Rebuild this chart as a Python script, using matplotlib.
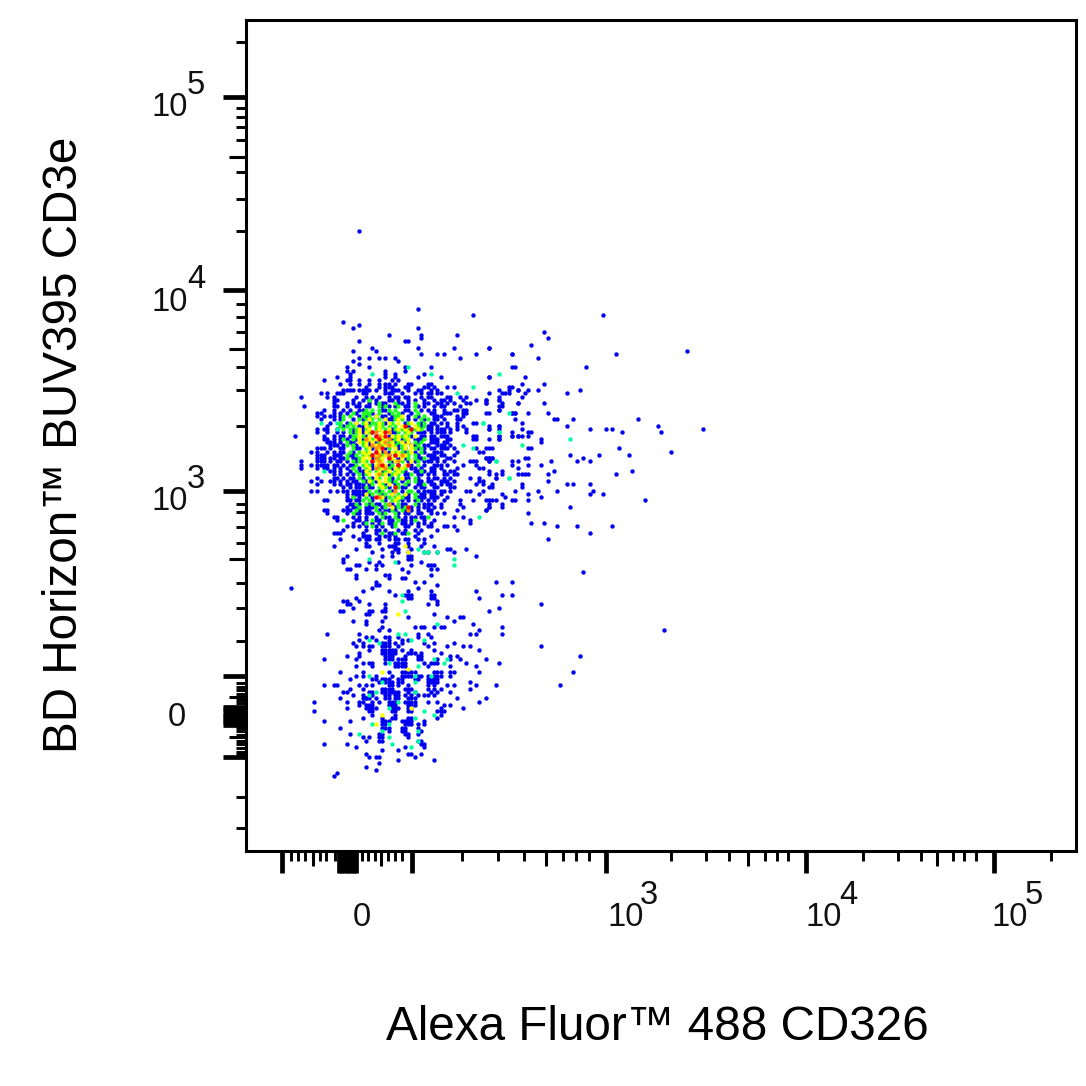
import matplotlib
matplotlib.use('Agg')
import matplotlib.pyplot as plt

plt.rcParams['font.family'] = ['Liberation Sans', 'DejaVu Sans']

# plot is 256 x 256 channels, each row is (y channel, [x channels])
blue_top = [(191,[35]),(167,[53]),(165,[70]),(163,[30]),(162,[35]),(161,[33,53]),(159,[44,65,54]),(158,[54]),
    (157,[35,49,50]),(155,[53,64,75,39]),(154,[33,40]),(153,[54,59,61,71,82]),(152,[35,38,41,43,46,66]),
    (151,[33,47]),(150,[35]),(149,[31,38,49,57,82]),(148,[49,33,43,31]),(147,[32,43,46,55]),
    (146,[28,32,43,46,53,60,75]),(145,[24,31,32,35,38,41,45,47]),(144,[29,32,38,41,43,46,50,51,56,57]),
    (143,[41,43,44,49,55,58,62,64,81]),(142,[30,31,32,35,36,37,38,43,45,46,50,54,57,59,78,81,84]),
    (141,[23,25,28,29,36,43,45,54,56,59,75,80]),(140,[17,25,37,41,44,47,49,54,56,62,63,66,68,78]),
    (139,[27,36,38,44,47,50,55,58,61,67,71,74,78]),(138,[31,35,38,40,43,47,50,56,59,62,68,69,74,79,84]),
    (137,[18,27,31,34,35,38,44,49,50,55,58,60,66,78]),(136,[24,27,32,35,42,49,56,61,65,67,68,78])]

blue_core = [(135,[22,29,34,39,48,57,61,62,67,68,74,82,83]),
    (134,[22,26,27,35,40,42,43,50,58,60,65,67]),(133,[27,33,43,44,52,59,61,65,66]),
    (132,[34,43,57,60,65,70,71]),(131,[36,56,57,65,67,75,78]),(130,[24,25,36,41,56,59,60,61,65,68,75,78]),
    (129,[22,30,36,45,53,55,59,60,61,68,82]),(128,[15,24,29,30,37,44,54,55,57,60,62,70,71,78,82,84]),
    (127,[24,25,31,36,45,52,53,57,58,62,70,71,78]),(126,[25,26,27,33,38,46,50,57,59,62]),
    (125,[27,28,33,44,51,55,59,61,63]),(124,[22,23,24,29,34,49,55,58,61,62,64,71,75]),
    (123,[20,27,30,44,52,59,60,65,72]),(122,[22,23,27,28,32,44,56,58,61,64]),
    (121,[22,24,27,29,33,47,54,57,58,62,74,75,76]),(120,[17,22,24,29,46,52,55,57,61,64,69,70,71,75,82]),
    (119,[17,20,22,24,25,27,32,58,60,62,67,71]),(118,[17,22,24,27,51,58,65,72]),
    (117,[27,35,52,55,57,63,64,75,79]),(116,[31,49,53,56,61,64,65,77]),
    (115,[22,27,33,50,58,61,63,69,72,77]),(114,[20,23,26,27,34,37,50,53,56,61,62,64,72,73]),
    (113,[22,27,31,34,35,53,57,62,63,71,76]),(112,[34,36,38,49,54,58,63,64,75]),
    (111,[20,22,26,28,31,34,35,36,55,56,58,60,63,68,69]),(110,[34,35,36,49,54,58,60,72]),
    (109,[31,50,53,55,58,62]),(108,[24,25,31,34,50,56,61,66,70,74,76,82]),
    (107,[33,38,41,45,49,55,57,60,66,75,79]),(106,[33,37,39,46,51,56,58,67,75]),
    (105,[24,25,30,31,37,38,44,46,51,57,65,74]),(104,[25,34,37,39,49,53,59,61]),
    (103,[27,28,37,44,49,51,55,64,67]),(102,[28,35,41,45,49,58,69]),(101,[41,44,49,53,57,69]),
    (100,[31,35,40,49,53,57,61,62,64]),(99,[41,49,54,65]),(98,[27,28,29,44,49]),(97,[36,37,41,44]),
    (96,[29,37,38,41,46,47,50,55])]

blue_fill = [(144,[35,44]),(143,[37,45,50,56]),(142,[33,40,47,53]),(141,[30,37,44,48,52,57,60]),(140,[27,34,39,46,50,57]),
    (139,[28,33,40,45,52,60,63]),(138,[27,33,42,48,55,60,64]),(137,[28,37,42,46,53,61]),(136,[30,36,43,50,54,58,64]),
    (135,[23,27,31,44,51,58,63]),(134,[24,29,37,45,53,59]),(133,[23,29,36,45,50,55,58]),(132,[26,31,38,49,54,58,62]),
    (131,[25,30,35,50,54,59,62]),(130,[22,28,33,45,51,57,63]),(129,[25,28,33,39,46,54,57,63]),(128,[27,32,40,51,58,61]),
    (127,[27,29,34,48,54,59,63]),(126,[29,32,40,49,53,58,61]),(125,[26,30,34,38,47,52,56,60]),
    (124,[26,30,35,39,43,47,53,57,60]),(123,[22,25,29,33,40,42,49,55,58]),(122,[24,29,33,39,46,53,57,60]),
    (121,[23,26,30,34,39,44,49,53,59,63]),(120,[23,26,28,31,34,39,45,50,56,59]),(119,[23,28,30,33,39,44,47,51,55,59]),
    (118,[25,29,31,35,39,45,52,54,57,60]),(117,[26,29,32,36,42,49,53,58,61]),(116,[27,29,33,36,44,50,54,58,62]),
    (115,[28,30,32,36,39,45,49,53,56,59]),(114,[29,31,33,40,45,48,54,57,60]),(113,[29,32,36,38,43,46,50,54,58,60]),
    (112,[30,32,35,39,44,48,52,55,59]),(111,[30,33,37,41,45,48,53,57,61]),(110,[31,33,38,42,45,50,55,57]),
    (109,[33,35,39,43,49,54,57,59]),(108,[32,35,39,43,48,52,54,58]),(107,[32,35,40,44,48,53,56]),
    (106,[31,34,38,42,48,53,55,60]),(105,[32,35,41,43,49,53,56]),(104,[31,35,38,42,47,50,54,57]),
    (103,[33,35,40,43,47,52,54]),(102,[34,37,40,44,48,51,55]),(101,[33,36,39,45,48,51,55]),(100,[33,37,42,45,50,56]),
    (99,[30,37,40,43,47,52,59]),(98,[36,40,45,48,53]),(97,[33,38,43,46,52,57]),(96,[35,40,44,49,53])]

blue_low = [(95,[37,41,46,47,50,55]),(94,[27,37,38,44,45,46,50,54,58]),(93,[34,42,46,47,51,62,63,68]),
    (92,[39,45,47,50,55,56,59,64]),(91,[31,42,45,50,51,71]),(90,[30,50,51]),(89,[30,38,41,47,54]),
    (88,[34,35,40,42,51,56,57,58]),(87,[31,32,37,40,48,57,59]),(86,[50,104]),(85,[34,43,44,57]),
    (84,[34,44,48,49]),(83,[40,52,55,77,82]),(82,[40,41,59]),(81,[14,39,53]),(80,[36,44,50,57,71]),
    (79,[46,49,50,51,57,58,79,82]),(78,[34,50,51,57,58,72]),(77,[30,31,35,59]),(76,[31,32,38,43,56,59,91]),
    (75,[33,43,78]),(74,[29,30,38,39,42,43,75]),(73,[37,38,58]),(72,[43,50,62,66,67]),(71,[33,37,42,64]),
    (70,[37,70]),(69,[42,52,54,55,58,60,61,79]),(68,[41,44,72,129]),(67,[25,35,53,56,69,71,79]),
    (66,[37,39,43,44,47,53,57]),(65,[35,40,44,48,50]),(64,[33,36,46,48,55,58,64]),
    (63,[34,36,38,39,42,47,56,62,67,69,91]),(62,[38,42,43,48,51,58,72]),(61,[35,43,44,46,50,54,60]),
    (60,[31,35,44,49,53,54,63,65,103]),(59,[24,34,44,47,63,66,74]),(58,[36,38,39,47,48,55,57,58,68,78]),
    (57,[34,39,47,48,63,71]),(55,[29,36,44,49,50,52,59,60,63,72,101]),
    (54,[34,36,40,45,48,49,53,54,56,59,60,63]),(53,[32,39,40,42,47,52,57,58]),(52,[45,47,57,58,69]),
    (51,[24,27,28,35,37,39,44,45,47,50,56,58,62,64,71,77,97]),(50,[32,36,43,50,51,56,69]),
    (49,[30,31,38,42,43,45,46,50,52,57,59,63]),(48,[33,36,44,46,49,53,55,58]),
    (47,[29,36,37,40,43,47,51,65,74]),(46,[21,31,35,36,39,41,44,49,50,56,59,72]),(45,[38,45,51,63]),
    (44,[31,37,38,39,45,46,51,67]),(43,[21,38,45,50,60,61]),(42,[39,46,60]),(41,[36,42,45,59]),
    (40,[24,32,42,43,48,49,50]),(39,[43,50,51,55]),(38,[29,42,44,48,53]),(37,[44,49,54]),
    (36,[32,41,49,50,53]),(35,[36,38,41,42,50]),(34,[37,41,42,53,54]),(33,[24,31,54,55]),(32,[34,49,55]),
    (31,[42,47]),(30,[37,50,51,54]),(29,[38,40,41,52]),(28,[47,58]),(27,[41]),(26,[37]),(25,[40]),
    (24,[28]),(23,[27])]

blue_low_fill = [(64,[42,43,44]),(63,[43,44]),(62,[44,45,46]),(61,[42,45,51,52]),(60,[43,45]),(59,[43,45,48,49,53,54,59]),
    (58,[43,46,49,59]),(57,[46,49,56]),(55,[48,51,58,64]),(54,[50,51,58]),(53,[43,44,48,53,56,59]),(52,[41,43,44,48,56,59]),
    (50,[42,44,45,49,58,60]),(49,[39,44,47]),(48,[39,43,47,51,56]),(47,[37,38,44,46,50,52]),(46,[45,46,51,52]),
    (45,[35,37,39,44,46,50,52,61]),(44,[40,47,50,60]),(43,[39,46,51,59,60]),(41,[46,50,51]),(40,[44,51,55]),
    (39,[42,49,53]),(38,[43,49]),(37,[48]),(36,[42])]

right_x = [110,92,93,88,75,82,114,136,90,83,105,75,86,85,92,82,84,87,90,103,79,81,86,99,85,78,74,74,84,92,79,78,
    75,82,83,87,93,83,95,96,101,121,85,78,99,127,75,85,106,111,113,141,87,88,116,128,78,82,84,85,87,75,78,91,
    91,74,76,87,88,115,73,131,100,109,118,74,75,76,86,87,104,75,84,94,102,106,82,87,91,84,73,95,119,75,79,84,
    85,86,87,93,114,77,93,73,85,99,101,106,76,85,73,83,90,96,107,79,87,106,110,80,91,75,77,83,87,123,79,100,
    75,74,87,88,92,96,102,113,106,93]
right_y = [165,160,158,156,155,153,153,154,152,149,149,146,146,144,144,143,142,142,142,142,141,141,141,141,140,139,139,138,138,138,137,136,
    135,135,135,135,135,133,133,133,133,133,132,131,131,131,130,130,130,130,130,130,129,129,129,129,128,128,128,128,128,127,127,127,
    126,124,124,124,124,124,123,123,122,122,122,121,121,121,121,121,121,120,120,120,120,120,119,119,119,118,118,117,117,116,116,116,
    116,116,116,116,116,115,114,113,113,113,113,113,112,112,111,111,111,111,111,110,110,110,110,109,109,108,108,108,108,108,106,106,
    106,105,104,101,101,100,100,100,98,96]

teal_x = [23,28,28,24,65,70,78,57,50,39,73,78,81,72,67,70,77,81,64,64,73,78,100,85,77,81,38,46,55,56,59,53,48,48,49,59,47,49,38,51,55,41,
    44,53,58,61,62,38,52,57,42,52,40,38,52,47,55,58,44,52,39,44,42,53,35,44,53,45,51]
teal_y = [132,132,130,117,141,143,147,147,149,147,132,129,135,103,125,124,120,115,90,88,132,129,127,125,120,115,90,89,92,92,92,93,79,77,74,70,67,67,65,65,65,64,
    58,57,59,58,59,54,54,54,52,52,49,48,49,46,43,42,44,41,39,39,37,37,36,35,34,33,32]

green_core = [(139,[38]),(138,[41,46,52]),(137,[41,43,47,52]),(136,[37,39,41,44,46,52]),(135,[33,36,37,38,41,45,47,53]),
    (134,[30,32,36,38,46,47,52,55]),(133,[30,35,37,39,41,46,48,54,56]),(132,[29,32,36,39,40,42,45,50,53,55]),
    (131,[29,31,33,38,40,42,44,46,53,55]),(130,[30,32,34,37,40,43,46,48,50,52,54]),(129,[32,34,38,47,49,51]),
    (128,[33,34,36,41,46,48,50]),(127,[30,33,35,39,42,46,49,55]),(126,[31,36,41,44,47,52,54]),
    (125,[31,33,36,42,46,48,53]),(124,[33,37,44,48,52,54]),(123,[32,35,37,46,48,50,54]),(122,[31,34,36,38,42,50,52]),
    (121,[31,35,41,50,52,55]),(120,[33,35,37,44,48,53]),(119,[34,36,38,45,53]),(118,[33,37,41,44,47,49]),
    (117,[34,38,40,43,46,48,54]),(116,[35,37,42,45,47,51]),(115,[35,38,41,44,47,52]),(114,[36,39,44,46,50,52]),
    (113,[39,42,47,49,55]),(112,[37,41,43,46,47]),(111,[38,40,42,44,50,51]),(110,[39,41,43,47,52]),
    (109,[33,37,44,46,48,52]),(108,[36,38,42,45,47,53]),(107,[34,37,39,43,47,52]),(106,[35,40,43,47,49]),
    (105,[34,40,45,48]),(104,[33,41,43,46]),(103,[42,46,56]),(102,[30,39,47,52]),(101,[37,42,46]),(100,[39,46]),(98,[42,46,50])]

yellow_core = [(134,[40,48]),(133,[38,43,47]),(132,[34,37,41,44,47,51]),(131,[37,41,48,52]),(130,[35,38,41,44,47,49,53]),
    (129,[35,37,42,44,50]),(128,[35,38,42,45,47,49,52]),(127,[35,37,38,40,43,47,50]),(126,[35,37,39,42,45,48,50]),
    (125,[37,40,43,45,49,51]),(124,[38,41,46,49,51]),(123,[36,38,41,45,47,51]),(122,[37,40,43,47,49]),
    (121,[36,38,42,45,48]),(120,[36,40,42,46,51]),(119,[37,40,43,49]),(118,[38,42,46,48]),(117,[37,41,44,47]),
    (116,[38,40,43,46]),(115,[40,43,48]),(114,[38,41,43]),(113,[41,44]),(112,[42]),(110,[37,45,49]),(109,[42,47]),
    (108,[46]),(106,[45]),(94,[49]),(92,[50]),(73,[47]),(56,[50]),(55,[42]),(44,[51]),(42,[42]),(39,[40])]

orange_x = [40,44,41,37,44,43,39,41,44,40,43,41,44,48,40,41,47,41,40,43,41,46,41,44,50]
orange_y = [129,129,128,127,127,126,125,125,125,124,123,122,122,122,121,120,120,119,118,118,116,111,109,107,105]

red_x = [39,40,43,49,40,39,42,46,44,39,47,50,42,46,40,50,43,41,51]
red_y = [129,128,129,131,123,122,124,122,121,120,119,119,119,112,109,106,128,127,130]

# axis ticks in channels
x_short = [13.9,16,18.2,22.8,24.7,27.5,35.8,37.6,39.8,43.8,46,48.1,66.6,77.7,85.7,97.8,101.8,105.8,131,141.9,149,160,163.8,167.2,190.3,201,208.2,218,221.5,225.2,248.3]
x_mid = [20.7,41.6,92.5,154.8,213.1]
x_long = [11.1,51.2,111,172.7,230.7,28.6,29.4,30.2,31,31.8,32.6,33.4,34]
y_short = [249.2,228.9,226.1,223,219,209.1,200.8,190.9,168.4,164.4,160,149,141.9,130.8,107,104.3,99.9,95,82.7,75,64.8,16.7,7.1,
    51.8,50.6,49.7,48.5,46.6,45.7,37.9,37,35.8,33.9,33,31.8,30.6,30]
y_mid = [213.8,154.8,90,47.5,35.2]
y_long = [232.3,172.7,111,54,29,44.4,43.6,42.8,42,41.2,40.4,39.6,38.9]

W = 1086
S = 3.242  # px per channel

fig = plt.figure(figsize=(10.86, 10.86), dpi=100)
ax = fig.add_axes([246/W, 1-851/W, 830/W, 831/W])
ax.set_xlim(0, 256)
ax.set_ylim(0, 256)
ax.set_xticks([])
ax.set_yticks([])
for s in ax.spines.values():
    s.set_linewidth(2.2)


def flat(rows):
    xs, ys = [], []
    for r, cols in rows:
        for c in cols:
            xs.append(c)
            ys.append(r)
    return xs, ys


def dots(x, y, col):
    ax.scatter(x, y, s=10, c=col, marker='o', linewidths=0, zorder=3)


bx, by = flat(blue_top + blue_core + blue_fill + blue_low + blue_low_fill)
dots(bx, by, '#0000f0')
dots(right_x, right_y, '#0000f0')
dots(teal_x, teal_y, '#00ffa0')
gx, gy = flat(green_core)
dots(gx, gy, '#20ff20')
yx, yy = flat(yellow_core)
dots(yx, yy, '#ffff00')
dots(orange_x, orange_y, '#ff9000')
dots(red_x, red_y, '#ff0000')

for ticks, ln, lw in ((x_short, 10, 2.1), (x_mid, 15, 2.2), (x_long, 22, 3.4)):
    for c in ticks:
        ax.plot([c, c], [0, -ln/S], color='k', lw=lw, clip_on=False, solid_capstyle='butt', zorder=2)
for ticks, ln, lw in ((y_short, 10, 2.1), (y_mid, 17, 2.2), (y_long, 23, 3.4)):
    for c in ticks:
        ax.plot([0, -ln/S], [c, c], color='k', lw=lw, clip_on=False, solid_capstyle='butt', zorder=2)


def label(px, py, s, size=23.5, ha='left', rot=0):
    fig.text(px/W, 1-py/W, s, fontsize=size, ha=ha, va='center', rotation=rot, color='#111111')


for lx, ly, e in ((607, 918, '3'), (806, 918, '4'), (992, 918, '5')):
    label(lx, ly, '10')
    label(lx+33, ly-23, e)
for lx, ly, e in ((151, 108, '5'), (151, 302, '4'), (151, 502, '3')):
    label(lx, ly, '10')
    label(lx+36, ly-22, e)
label(362, 918, '0', ha='center')
label(177, 718, '0', ha='center')

fig.text(657/W, 1-1027/W, 'Alexa Fluor\u2122 488 CD326', fontsize=34.3, ha='center', va='center', color='k')
fig.text(65/W, 1-445/W, 'BD Horizon\u2122 BUV395 CD3e', fontsize=34.3, ha='center', va='center', rotation=90, color='k')

fig.savefig('out.png', dpi=100)
